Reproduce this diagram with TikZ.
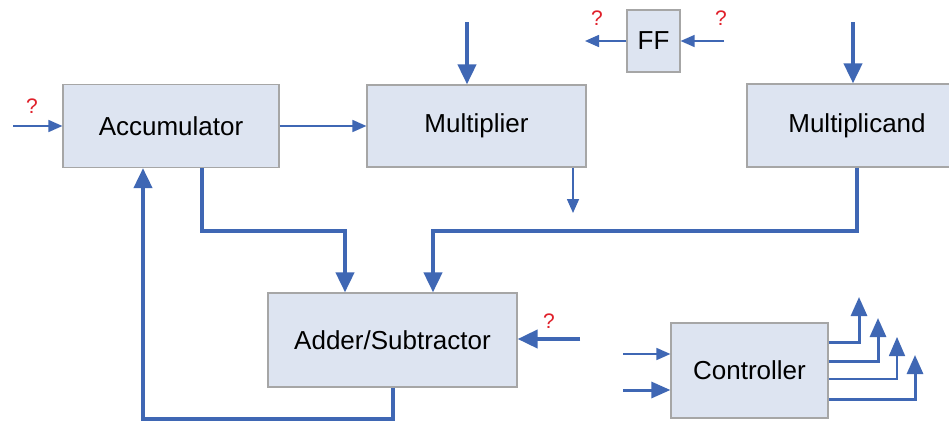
\documentclass[tikz,border=0pt]{standalone}
\usepackage{fontspec}
\setmainfont{Liberation Sans}
\usetikzlibrary{arrows.meta,calc}
\definecolor{wire}{RGB}{63,103,180}
\definecolor{boxfill}{RGB}{221,228,241}
\definecolor{boxline}{RGB}{166,166,166}
\definecolor{qred}{RGB}{224,32,42}
\tikzset{
  x=1pt, y=-1pt,
  unit/.style={draw=boxline, fill=boxfill, line width=1.2pt, inner sep=0pt,
    font=\fontsize{26}{30}\selectfont},
  thickarr/.style={draw=wire, line width=4pt,
    -{Triangle[length=20pt,width=18pt]}},
  midarr/.style={draw=wire, line width=3pt,
    -{Triangle[length=19pt,width=16pt]}},
  thinarr/.style={draw=wire, line width=1.6pt,
    -{Triangle[length=14pt,width=12pt]}},
  qmark/.style={text=qred, font=\fontsize{21}{24}\selectfont, inner sep=0pt},
}
\begin{document}
\begin{tikzpicture}
\clip (0,0) rectangle (949,423);
\fill[white] (0,0) rectangle (949,423);

% functional units
\node[unit, minimum width=216pt, minimum height=83pt] (acc)   at (171,126)   {Accumulator};
\node[unit, minimum width=219pt, minimum height=82pt] (mult)  at (476.5,126) {Multiplier};
\node[unit, minimum width=220pt, minimum height=83pt] (mcand) at (857,125.5) {Multiplicand};
\node[unit, minimum width=53pt,  minimum height=62pt] (ff)    at (653.5,41)  {FF};
\node[unit, minimum width=249pt, minimum height=94pt] (add)   at (392.5,340) {Adder/Subtractor};
\node[unit, minimum width=157pt, minimum height=95pt] (ctrl)  at (749.5,370.5) {Controller};

% free ends of connectors
\coordinate (accin)   at (13,126);
\coordinate (multin)  at (467,22);
\coordinate (multout) at (573,213);
\coordinate (mcin)    at (853,22);
\coordinate (addin)   at (580,339);
\coordinate (ffout)   at (585,41);
\coordinate (ffin)    at (724,41);
\coordinate (ctin1)   at (623,354);
\coordinate (ctin2)   at (623,390);
\coordinate (co1) at (859,297);
\coordinate (co2) at (878,318);
\coordinate (co3) at (897,337);
\coordinate (co4) at (915,355);

% question marks
\node[qmark] (q1) at (32,106) {?};
\node[qmark] (q2) at (597,18) {?};
\node[qmark] (q3) at (721,18) {?};
\node[qmark] (q4) at (549,321) {?};

% inputs and outputs
\draw[thinarr] (accin) -- (acc.west);
\draw[thinarr] (acc.east) -- (mult.west);
\draw[thickarr] (multin) -- (multin |- mult.north);
\draw[thinarr] (multout |- mult.south) -- (multout);
\draw[thickarr] (mcin) -- (mcin |- mcand.north);
\draw[thickarr] (addin) -- (addin -| add.east);
\draw[thinarr] (ff.west) -- (ffout);
\draw[thinarr] (ffin) -- (ff.east);

% data paths
\draw[thickarr] (mcand.south) -- ++(0,63) -| ([xshift=40.5pt]add.north);
\draw[thickarr] ([xshift=31pt]acc.south) -- ++(0,63) -| ([xshift=-47.5pt]add.north);
\draw[thickarr] ([xshift=0.5pt]add.south) -- ++(0,31) -| ([xshift=-28pt]acc.south);

% controller
\draw[thinarr] (ctin1) -- (ctin1 -| ctrl.west);
\draw[midarr]  (ctin2) -- (ctin2 -| ctrl.west);
\draw[midarr]  (ctrl.east |- 0,342) -| (co1);
\draw[midarr]  (ctrl.east |- 0,361) -| (co2);
\draw[thinarr, -{Triangle[length=19pt,width=16pt]}] (ctrl.east |- 0,379) -| (co3);
\draw[midarr]  (ctrl.east |- 0,399) -| (co4);
\end{tikzpicture}
\end{document}
